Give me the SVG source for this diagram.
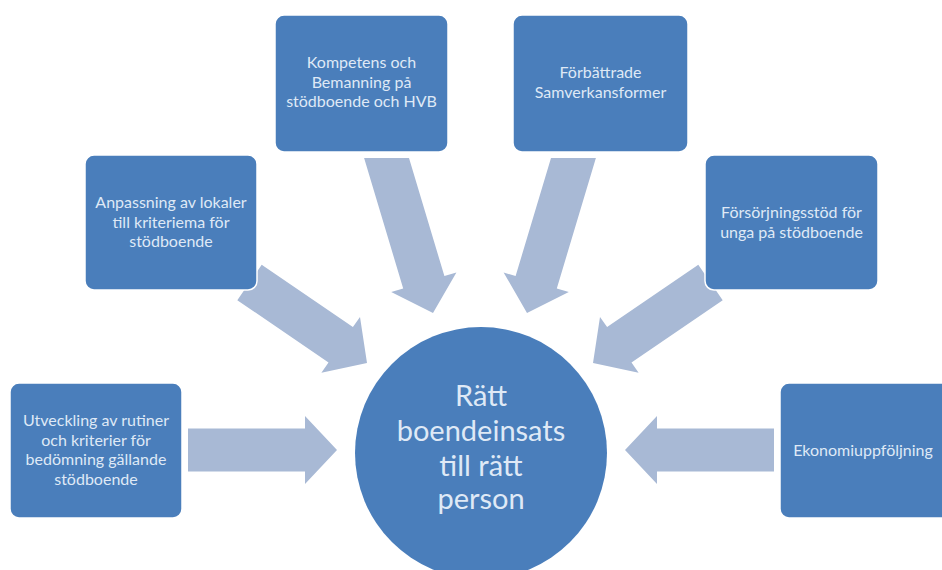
<svg xmlns="http://www.w3.org/2000/svg" width="942" height="570" viewBox="0 0 942 570">
<style>
.box{fill:#4a7ebb;stroke:#ffffff;stroke-width:1.5}
.lbl{font-family:Lato,"Liberation Sans",sans-serif;font-size:16px;fill:#dfe9f6;text-anchor:middle}
.big{font-family:Lato,"Liberation Sans",sans-serif;font-size:29px;fill:#dfe9f6;text-anchor:middle}
.arr{fill:#a8b9d5}
</style>
<rect width="942" height="570" fill="#ffffff"/>
<g id="connectors">
<polygon class="arr" points="188,428.5 305,428.5 305,416 337,450 305,484 305,471.5 188,471.5"/>
<polygon class="arr" points="774,428.5 657,428.5 657,416 625,450 657,484 657,471.5 774,471.5"/>
<polygon class="arr" points="364.1,158 409,158 444.4,276.1 456.4,272.5 433,313 391.2,292.1 403.2,288.5"/>
<polygon class="arr" points="595.9,158 551,158 515.6,276.1 503.6,272.5 527,313 568.8,292.1 556.8,288.5"/>
<polygon class="arr" points="261.7,264.8 352.9,327.1 360,316.9 367,363 321.4,372.7 328.5,362.5 237.3,300.2"/>
<polygon class="arr" points="698.3,264.8 607.1,327.1 600,316.9 593,363 638.6,372.7 631.5,362.5 722.7,300.2"/>
</g>
<g id="center">
<circle cx="481" cy="453" r="126" fill="#4a7ebb"/>
<text class="big" x="481" y="406">Rätt</text>
<text class="big" x="481" y="441">boendeinsats</text>
<text class="big" x="481" y="476">till rätt</text>
<text class="big" x="481" y="509">person</text>
</g>
<g id="n1">
<rect class="box" x="10" y="383" width="172" height="135" rx="9"/>
<text class="lbl" x="96" y="426">Utveckling av rutiner</text>
<text class="lbl" x="96" y="445.5">och kriterier för</text>
<text class="lbl" x="96" y="465">bedömning gällande</text>
<text class="lbl" x="96" y="484.5">stödboende</text>
</g>
<g id="n2">
<rect class="box" x="85" y="155" width="172" height="135" rx="9"/>
<text class="lbl" x="171" y="208">Anpassning av lokaler</text>
<text class="lbl" x="171" y="227.5">till kriteriema för</text>
<text class="lbl" x="171" y="247">stödboende</text>
</g>
<g id="n3">
<rect class="box" x="275" y="15" width="173" height="137" rx="9"/>
<text class="lbl" x="361.5" y="68">Kompetens och</text>
<text class="lbl" x="361.5" y="87.5">Bemanning på</text>
<text class="lbl" x="361.5" y="107">stödboende och HVB</text>
</g>
<g id="n4">
<rect class="box" x="513" y="15" width="175" height="137" rx="9"/>
<text class="lbl" x="600.5" y="78">Förbättrade</text>
<text class="lbl" x="600.5" y="97.5">Samverkansformer</text>
</g>
<g id="n5">
<rect class="box" x="705" y="155" width="173" height="135" rx="9"/>
<text class="lbl" x="791.5" y="218">Försörjningsstöd för</text>
<text class="lbl" x="791.5" y="237.5">unga på stödboende</text>
</g>
<g id="n6">
<rect class="box" x="780" y="383" width="172" height="135" rx="9"/>
<text class="lbl" x="863" y="456">Ekonomiuppföljning</text>
</g>
</svg>
